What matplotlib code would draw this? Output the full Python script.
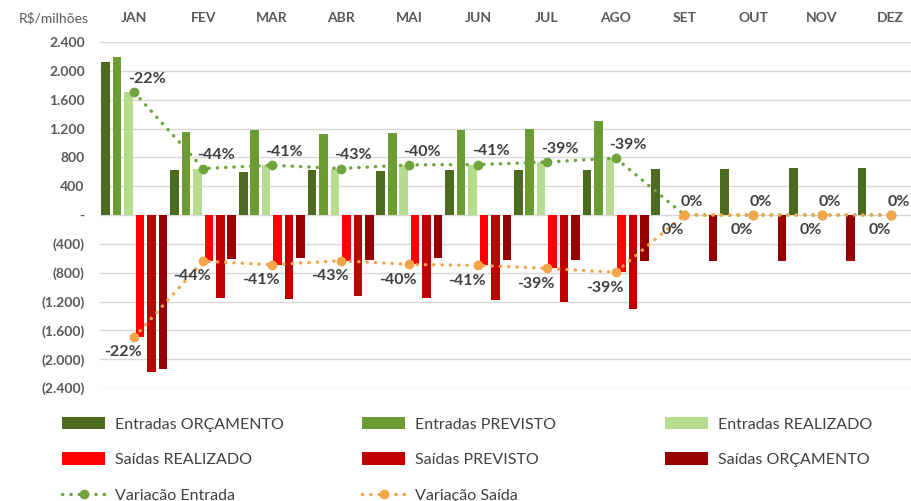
import numpy as np
import matplotlib
matplotlib.use("Agg")
import matplotlib.pyplot as plt
from matplotlib.ticker import FuncFormatter, MultipleLocator

plt.rcParams['font.family'] = ['Lato', 'DejaVu Sans']

# dados (R$ milhões)
meses = ["JAN", "FEV", "MAR", "ABR", "MAI", "JUN", "JUL", "AGO", "SET", "OUT", "NOV", "DEZ"]
ent_orcamento = [2120, 620, 600, 620, 605, 620, 620, 620, 633, 633, 647, 647]
ent_previsto = [2190, 1150, 1180, 1125, 1140, 1180, 1200, 1305, 0, 0, 0, 0]
ent_realizado = [1700, 645, 690, 645, 695, 700, 735, 790, 0, 0, 0, 0]
sai_realizado = [-1695, -640, -690, -635, -685, -700, -740, -795, 0, 0, 0, 0]
sai_previsto = [-2180, -1150, -1170, -1125, -1150, -1175, -1200, -1305, 0, 0, 0, 0]
sai_orcamento = [-2130, -615, -600, -625, -600, -625, -625, -635, -640, -640, -640, -640]
var_entrada = [-22, -44, -41, -43, -40, -41, -39, -39, 0, 0, 0, 0]
var_saida = [-22, -44, -41, -43, -40, -41, -39, -39, 0, 0, 0, 0]

cores = {
    "Entradas ORÇAMENTO": "#4c6b20",
    "Entradas PREVISTO": "#6b9b32",
    "Entradas REALIZADO": "#b7db8f",
    "Saídas REALIZADO": "#ff0000",
    "Saídas PREVISTO": "#c00000",
    "Saídas ORÇAMENTO": "#960000",
}
series = [ent_orcamento, ent_previsto, ent_realizado, sai_realizado, sai_previsto, sai_orcamento]

fig = plt.figure(figsize=(9.12, 5.01), dpi=100)
ax = fig.add_axes([100 / 912, 1 - 388 / 501, 812 / 912, 346 / 501])

x = np.arange(len(meses))
slot = 1 / 6
largura = 0.125
barras = {}
for i, (nome, vals) in enumerate(zip(cores.keys(), series)):
    barras[nome] = ax.bar(x + (i - 2.5) * slot, vals, largura, color=cores[nome], label=nome, zorder=2)

verde = "#6fa33c"
laranja = "#f4a547"
l_ent, = ax.plot(x, ent_realizado, linestyle=(0, (0.1, 2.4)), lw=2.4, dash_capstyle='round',
                 color=verde, marker='o', ms=6, label="Variação Entrada", zorder=4)
l_sai, = ax.plot(x, sai_realizado, linestyle=(0, (0.1, 2.4)), lw=2.4, dash_capstyle='round',
                 color=laranja, marker='o', ms=6, label="Variação Saída", zorder=4)

for xi, yi, p in zip(x, ent_realizado, var_entrada):
    dx = 9 if p else 5.5
    ax.annotate(f"{p}%", (xi, yi), xytext=(dx, 9.5), textcoords='offset points',
                ha='center', va='center', fontsize=11.5, fontweight='bold', color='#404040', zorder=5)
for xi, yi, p in zip(x, sai_realizado, var_saida):
    ax.annotate(f"{p}%", (xi, yi), xytext=(-8, -11), textcoords='offset points',
                ha='center', va='center', fontsize=11.5, fontweight='bold', color='#404040', zorder=5)

ax.set_xlim(-0.5, 11.31)
ax.set_ylim(-2400, 2400)
ax.yaxis.set_major_locator(MultipleLocator(400))


def fmt(v, pos):
    if abs(v) < 1e-6:
        return "-"
    s = f"{abs(v):,.0f}".replace(",", ".")
    return s if v > 0 else f"({s})"


ax.yaxis.set_major_formatter(FuncFormatter(fmt))
ax.grid(axis='y', color='#d9d9d9', lw=1, zorder=0)
for s in ax.spines.values():
    s.set_visible(False)
ax.tick_params(axis='y', length=0, pad=11, labelsize=10, labelcolor='#595959')
for t in ax.get_yticklabels():
    t.set_fontweight('bold')

ax.xaxis.tick_top()
ax.set_xticks(x)
ax.set_xticklabels(meses, fontweight='bold', fontsize=10, color='#595959')
ax.tick_params(axis='x', length=0, pad=13)

fig.text(54 / 912, 1 - 18 / 501, "R$/milhões", ha='center', va='center', fontsize=10, color='#595959')

# legenda em 3 colunas fixas
nomes = list(cores.keys())
colunas = [
    ([barras[nomes[0]], barras[nomes[3]], l_ent], [nomes[0], nomes[3], "Variação Entrada"], 62),
    ([barras[nomes[1]], barras[nomes[4]], l_sai], [nomes[1], nomes[4], "Variação Saída"], 362),
    ([barras[nomes[2]], barras[nomes[5]]], [nomes[2], nomes[5]], 665),
]
for hs, ls, xpos in colunas:
    fig.legend(hs, ls, loc='upper left', bbox_to_anchor=(xpos / 912, 1 - 417 / 501),
               frameon=False, fontsize=11.5, labelcolor='#404040', borderpad=0, borderaxespad=0,
               handlelength=2.7, handleheight=0.8, handletextpad=0.6, labelspacing=1.3, numpoints=1)

fig.savefig("out.png", dpi=100)
